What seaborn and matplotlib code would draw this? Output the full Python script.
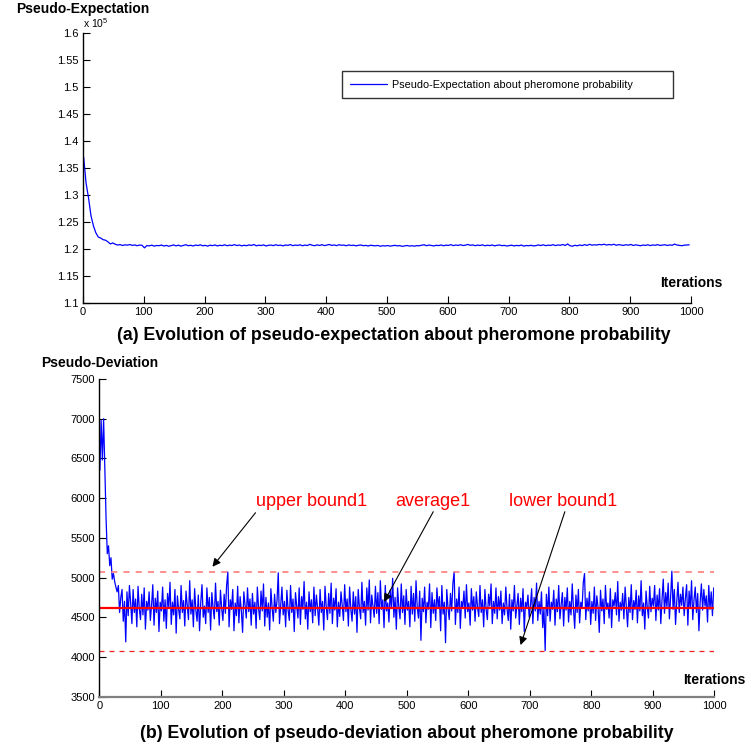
import numpy as np
import matplotlib
matplotlib.use("Agg")
import matplotlib.pyplot as plt
import seaborn as sns
from matplotlib.ticker import FuncFormatter, MultipleLocator

# ---------------- data ----------------
# (a) pseudo-expectation, in units of 1e5, sampled every 4 iterations (1, 5, 9, ...)
expectation_e5 = [
    1.370, 1.322, 1.295, 1.262, 1.243, 1.230, 1.222, 1.220, 1.217, 1.216, 1.213, 1.209, 1.211,
    1.2085, 1.2070, 1.2078, 1.2062, 1.2075, 1.2068, 1.2080, 1.2064, 1.2072, 1.2058, 1.2070, 1.2066, 1.2018,
    1.2060, 1.2055, 1.2068, 1.2050, 1.2062, 1.2058, 1.2070, 1.2052, 1.2064, 1.2048, 1.2060, 1.2072,
    1.2055, 1.2068, 1.2050, 1.2062, 1.2076, 1.2058, 1.2066, 1.2052, 1.2070, 1.2061, 1.2074, 1.2056, 1.2065,
    1.2050, 1.2068, 1.2059, 1.2072, 1.2054, 1.2066, 1.2060, 1.2075, 1.2057, 1.2069, 1.2062, 1.2078,
    1.2060, 1.2071, 1.2055, 1.2067, 1.2058, 1.2073, 1.2063, 1.2080, 1.2056, 1.2068, 1.2061, 1.2074, 1.2052,
    1.2066, 1.2070, 1.2059, 1.2076, 1.2062, 1.2069, 1.2055, 1.2072, 1.2064, 1.2079, 1.2058, 1.2070,
    1.2063, 1.2075, 1.2057, 1.2070, 1.2061, 1.2083, 1.2066, 1.2058, 1.2074, 1.2062, 1.2077, 1.2060, 1.2069,
    1.2081, 1.2064, 1.2072, 1.2059, 1.2076, 1.2066, 1.2070, 1.2057, 1.2073, 1.2062, 1.2068, 1.2055,
    1.2066, 1.2071, 1.2058, 1.2064, 1.2052, 1.2067, 1.2060, 1.2056, 1.2063, 1.2048, 1.2058, 1.2053, 1.2061,
    1.2050, 1.2057, 1.2065, 1.2054, 1.2060, 1.2046, 1.2055, 1.2062, 1.2051, 1.2058, 1.2049, 1.2060,
    1.2056, 1.2068, 1.2075, 1.2058, 1.2070, 1.2062, 1.2054, 1.2066, 1.2060, 1.2072, 1.2057, 1.2069, 1.2063,
    1.2078, 1.2059, 1.2071, 1.2064, 1.2076, 1.2061, 1.2068, 1.2082, 1.2065, 1.2073, 1.2058, 1.2070,
    1.2062, 1.2074, 1.2056, 1.2068, 1.2060, 1.2072, 1.2055, 1.2066, 1.2071, 1.2059, 1.2064, 1.2052, 1.2061,
    1.2067, 1.2054, 1.2063, 1.2058, 1.2070, 1.2050, 1.2062, 1.2057, 1.2066, 1.2053, 1.2060, 1.2072,
    1.2061, 1.2075, 1.2058, 1.2069, 1.2063, 1.2077, 1.2060, 1.2072, 1.2066, 1.2080, 1.2062, 1.2090, 1.2058,
    1.2048, 1.2066, 1.2056, 1.2072, 1.2060, 1.2078, 1.2063, 1.2084, 1.2068, 1.2075, 1.2070, 1.2082,
    1.2074, 1.2086, 1.2070, 1.2080, 1.2072, 1.2085, 1.2066, 1.2078, 1.2071, 1.2064, 1.2076, 1.2068, 1.2081,
    1.2062, 1.2074, 1.2066, 1.2058, 1.2070, 1.2064, 1.2075, 1.2060, 1.2072, 1.2066, 1.2078, 1.2063,
    1.2070, 1.2076, 1.2062, 1.2073, 1.2066, 1.2088, 1.2070, 1.2064, 1.2058, 1.2068, 1.2072, 1.2074,
]

# (b) pseudo-deviation, sampled every 2 iterations (1, 3, 5, ...)
deviation = [
    6350, 6980, 6480, 7000, 6400, 5750, 5300, 5400, 5150, 5250, 4980, 5050, 4950, 4880, 4820, 4900, 4560, 4750, 4850, 4450, 4700, 4190, 4820, 4520, 4900,
    4680, 4420, 4850, 4560, 4730, 4380, 4890, 4610, 4470, 4790, 4530, 4870, 4350, 4700, 4590, 4820, 4460, 4650, 4910, 4400, 4740, 4560, 4830, 4320, 4690,
    4580, 4880, 4450, 4720, 4360, 4800, 4620, 4940, 4410, 4690, 4530, 4850, 4300, 4770, 4600, 4480, 4900, 4560, 4710, 4390, 4830, 4650, 4470, 4960, 4540,
    4720, 4380, 4860, 4590, 4450, 4780, 4330, 4690, 4910, 4500, 4640, 4420, 4870, 4560, 4750, 4340, 4810, 4620, 4480, 4930, 4570, 4700, 4400, 4840, 4610,
    4460, 4790, 4550, 4900, 5070, 4380, 4720, 4600, 4850, 4330, 4680, 4520, 4890, 4430, 4760, 4580, 4310, 4820, 4650, 4490, 4870, 4570, 4730, 4400, 4800,
    4540, 4690, 4360, 4880, 4610, 4470, 4830, 4580, 4920, 4390, 4750, 4500, 4680, 4340, 4860, 4620, 4450, 4790, 4560, 4710, 5060, 4420, 4650, 4880, 4530,
    4700, 4380, 4840, 4590, 4460, 4900, 4560, 4730, 4320, 4810, 4640, 4490, 4870, 4410, 4760, 4600, 4950, 4480, 4690, 4350, 4820, 4570, 4720, 4430, 4880,
    4520, 4780, 4610, 4400, 4850, 4560, 4700, 4340, 4890, 4630, 4470, 4800, 4550, 4930, 4420, 4740, 4590, 4860, 4380, 4690, 4510, 4820, 4650, 4460, 4910,
    4570, 4730, 4390, 4880, 4600, 4450, 4820, 4540, 4760, 4310, 4850, 4620, 4480, 4940, 4560, 4700, 4400, 4870, 4590, 4970, 4430, 4780, 4640, 4500, 4890,
    4550, 4810, 4420, 4960, 4600, 4720, 4370, 4900, 4580, 4680, 4440, 4840, 4610, 4990, 4500, 4750, 4350, 4870, 4630, 4480, 4920, 4560, 4770, 4410, 4850,
    4590, 4700, 4380, 4890, 4540, 4800, 4450, 4960, 4620, 4490, 4830, 4210, 4740, 4570, 4880, 4430, 4690, 4600, 4920, 4370, 4810, 4550, 4720, 4460, 4870,
    4610, 4760, 4330, 4900, 4540, 4690, 4180, 4850, 4620, 4470, 4800, 4580, 4930, 5070, 4410, 4730, 4560, 4880, 4360, 4700, 4620, 4830, 4490, 4910, 4570,
    4680, 4400, 4860, 4590, 4760, 4450, 4820, 4630, 4510, 4900, 4560, 4720, 4380, 4850, 4600, 4470, 4790, 4640, 4920, 4420, 4700, 4550, 4870, 4480, 4760,
    4590, 4830, 4420, 4680, 4530, 4880, 4610, 4460, 4790, 4350, 4720, 4580, 4900, 4490, 4650, 4800, 4410, 4740, 4570, 4860, 4320, 4690, 4620, 4780, 4500,
    4640, 4860, 4420, 4750, 4580, 4930, 4460, 4700, 4540, 4820, 4370, 4610, 4080, 4790, 4520, 4880, 4450, 4690, 4600, 4840, 4400, 4730, 4570, 4900, 4480,
    4660, 4810, 4390, 4750, 4590, 4870, 4440, 4700, 4530, 4920, 4610, 4360, 4780, 4560, 4850, 4430, 4690, 4620, 4940, 5050, 4470, 4740, 4580, 4820, 4410,
    4700, 4550, 4880, 4460, 4770, 4620, 4310, 4840, 4580, 4730, 4420, 4900, 4600, 4680, 4490, 4860, 4370, 4720, 4640, 4810, 4530, 4950, 4450, 4690, 4590,
    4800, 4480, 4880, 4620, 4380, 4750, 4560, 4910, 4470, 4710, 4600, 4840, 4430, 4770, 4580, 4960, 4520, 4680, 4350, 4830, 4630, 4490, 4890, 4570, 4740,
    4640, 4900, 4460, 4780, 4590, 4860, 4420, 4720, 4980, 4550, 4810, 4630, 4930, 4480, 4760, 5080, 4600, 4850, 4410, 4700, 4940, 4560, 4790, 4650, 4880,
    4520, 4740, 4910, 4400, 4830, 4610, 4960, 4470, 4720, 4880, 4560, 4800, 4330, 4690, 4920, 4590, 4850, 4640, 4770, 4440, 4900, 4600, 4820, 4520, 4870,
]

average1 = 4615
upper_bound1 = 5072
lower_bound1 = 4080

x_ticks = [0, 100, 200, 300, 400, 500, 600, 700, 800, 900, 1000]

exp_iter = np.arange(len(expectation_e5)) * 4 + 1
dev_iter = np.arange(len(deviation)) * 2 + 1

# ---------------- style ----------------
sns.set_style("white")
plt.rcParams["font.family"] = ["Liberation Sans", "DejaVu Sans"]
plt.rcParams["mathtext.fontset"] = "custom"
plt.rcParams["mathtext.rm"] = "Liberation Sans"
plt.rcParams["mathtext.it"] = "Liberation Sans:italic"
plt.rcParams["mathtext.bf"] = "Liberation Sans:bold"
plt.rcParams["text.color"] = "black"
plt.rcParams["axes.labelcolor"] = "black"
plt.rcParams["xtick.color"] = "black"
plt.rcParams["ytick.color"] = "black"

fig = plt.figure(figsize=(7.46, 7.48), dpi=100)
ax1 = fig.add_axes([0.1113, 0.5953, 0.815, 0.3602])
ax2 = fig.add_axes([0.1331, 0.0686, 0.8244, 0.4247])

for ax in (ax1, ax2):
    ax.set_facecolor("white")
    ax.spines["top"].set_visible(False)
    ax.spines["right"].set_visible(False)
    for s in ("left", "bottom"):
        ax.spines[s].set_color("black")
        ax.spines[s].set_linewidth(1.0)
    ax.tick_params(direction="in", length=5, width=0.8, labelsize=8, pad=3,
                   colors="black", labelcolor="black", bottom=True, left=True)
    ax.set_xlim(0, 1000)
    ax.set_xticks(x_ticks)

# ---------------- (a) ----------------
sns.lineplot(x=exp_iter, y=expectation_e5, ax=ax1, color="#0000ff", linewidth=0.9,
             estimator=None, label="Pseudo-Expectation about pheromone probability")
ax1.set_ylim(1.1, 1.6)
ax1.yaxis.set_major_locator(MultipleLocator(0.05))
ax1.yaxis.set_major_formatter(FuncFormatter(lambda v, p: "%g" % round(v, 3)))
ax1.set_xlabel("")
ax1.set_ylabel("")
leg = ax1.legend(loc="center", bbox_to_anchor=(0.426, 0.755, 0.544, 0.109), mode="expand",
                 frameon=True, fancybox=False, fontsize=7.8, handlelength=3.4,
                 borderpad=0.75, handletextpad=0.5, borderaxespad=0)
leg.get_frame().set_edgecolor("black")
leg.get_frame().set_linewidth(1.0)
for t in leg.get_texts():
    t.set_color("black")

ax1.text(0, 1.091, "Pseudo-Expectation", transform=ax1.transAxes, ha="center",
         va="center", fontsize=10, fontweight="bold")
ax1.text(0.0, 1.037, "x 10$^{5}$", transform=ax1.transAxes, ha="left", va="center",
         fontsize=7.5)
ax1.text(1.0, 0.073, "Iterations", transform=ax1.transAxes, ha="center", va="center",
         fontsize=10, fontweight="bold")

# ---------------- (b) ----------------
sns.lineplot(x=dev_iter, y=deviation, ax=ax2, color="#0000ff", linewidth=0.9,
             estimator=None, legend=False)
ax2.plot([0, 1000], [upper_bound1, upper_bound1], color="#ff7070", lw=1.1, ls=(0, (4, 4)))
ax2.plot([0, 1000], [lower_bound1, lower_bound1], color="#ee2020", lw=0.9, ls=(0, (4, 4)))
ax2.plot([0, 1000], [average1, average1], color="#ff0000", lw=1.6)
ax2.set_ylim(3500, 7500)
ax2.yaxis.set_major_locator(MultipleLocator(500))
ax2.set_xlabel("")
ax2.set_ylabel("")
ax2.spines["bottom"].set_color("#808080")
ax2.spines["bottom"].set_linewidth(1.6)

arrow = dict(arrowstyle="-|>", color="black", lw=0.8, mutation_scale=12,
             shrinkA=0, shrinkB=0)
ax2.annotate("", xy=(184, 5136), xytext=(254, 5816), arrowprops=arrow)
ax2.annotate("", xy=(463, 4695), xytext=(543, 5829), arrowprops=arrow)
ax2.annotate("", xy=(685, 4150), xytext=(757, 5829), arrowprops=arrow)
ax2.text(345, 5955, "upper bound1", color="red", fontsize=13, ha="center", va="center")
ax2.text(543, 5955, "average1", color="red", fontsize=13, ha="center", va="center")
ax2.text(755, 5955, "lower bound1", color="red", fontsize=13, ha="center", va="center")

ax2.text(0, 1.0494, "Pseudo-Deviation", transform=ax2.transAxes, ha="center",
         va="center", fontsize=10, fontweight="bold")
ax2.text(1.0, 0.0526, "Iterations", transform=ax2.transAxes, ha="center", va="center",
         fontsize=10, fontweight="bold")

fig.text(394 / 746, 1 - 335 / 748, "(a) Evolution of pseudo-expectation about pheromone probability",
         ha="center", va="center", fontsize=12.8, fontweight="bold")
fig.text(407 / 746, 1 - 733 / 748, "(b) Evolution of pseudo-deviation about pheromone probability",
         ha="center", va="center", fontsize=12.8, fontweight="bold")

fig.savefig("out.png", dpi=100, facecolor="white")
